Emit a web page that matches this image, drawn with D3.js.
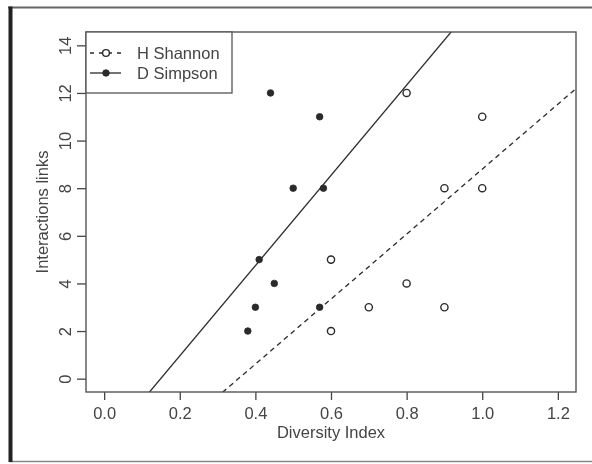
<!DOCTYPE html>
<html>
<head>
<meta charset="utf-8">
<script src="https://cdn.jsdelivr.net/npm/d3@7"></script>
<style>
  html, body { margin: 0; padding: 0; background: #fff; }
  svg { display: block; font-family: "Liberation Sans", Arial, sans-serif; }
</style>
</head>
<body>
<div id="chart"></div>
<script>
// data
const shannonX = [0.8, 1.0, 0.9, 1.0, 0.6, 0.8, 0.7, 0.9, 0.6];
const shannonY = [12, 11, 8, 8, 5, 4, 3, 3, 2];
const simpsonX = [0.44, 0.57, 0.50, 0.58, 0.41, 0.45, 0.40, 0.57, 0.38];
const simpsonY = [12, 11, 8, 8, 5, 4, 3, 3, 2];
const xTicks = [0, 0.2, 0.4, 0.6, 0.8, 1.0, 1.2];
const yTicks = [0, 2, 4, 6, 8, 10, 12, 14];
const seriesNames = ["H Shannon", "D Simpson"];

const width = 592, height = 464;
const plot = { left: 86, top: 32, right: 576, bottom: 392 };
const ink = "#2a2a2a";
const fontSize = 16.5;

// R pads the limits by 4% on each side
const pad = (lo, hi) => [lo - (hi - lo) * 0.04, hi + (hi - lo) * 0.04];

const x = d3.scaleLinear().domain(pad(0, 1.2)).range([plot.left, plot.right]);
const y = d3.scaleLinear().domain(pad(0, 14)).range([plot.bottom, plot.top]);

// least squares line, same as lm(y ~ x)
function fit(xs, ys) {
  const mx = d3.mean(xs), my = d3.mean(ys);
  const sxy = d3.sum(xs, (v, i) => (v - mx) * (ys[i] - my));
  const sxx = d3.sum(xs, (v) => (v - mx) ** 2);
  const slope = sxy / sxx;
  return { slope, intercept: my - slope * mx };
}

const series = [
  { name: seriesNames[0], xs: shannonX, ys: shannonY, filled: false, dash: "5,4" },
  { name: seriesNames[1], xs: simpsonX, ys: simpsonY, filled: true, dash: null },
];
series.forEach((s) => (s.fit = fit(s.xs, s.ys)));

const svg = d3.select("#chart").append("svg")
  .attr("width", width)
  .attr("height", height);

const defs = svg.append("defs");
defs.append("filter").attr("id", "soft")
  .append("feGaussianBlur").attr("stdDeviation", 0.45);
defs.append("clipPath").attr("id", "plot-clip")
  .append("rect")
  .attr("x", plot.left).attr("y", plot.top)
  .attr("width", plot.right - plot.left)
  .attr("height", plot.bottom - plot.top);

const g = svg.append("g").attr("filter", "url(#soft)");

// outer frame of the figure
g.append("line").attr("x1", 8).attr("x2", width).attr("y1", 7.5).attr("y2", 7.5)
  .attr("stroke", "#666").attr("stroke-width", 2);
g.append("line").attr("x1", 10).attr("x2", width).attr("y1", 461.5).attr("y2", 461.5)
  .attr("stroke", "#888").attr("stroke-width", 1.6);
g.append("line").attr("x1", 10.5).attr("x2", 10.5).attr("y1", 6.5).attr("y2", 462)
  .attr("stroke", "#222").attr("stroke-width", 4);

// regression lines (abline), clipped to the plot region
const lines = g.append("g").attr("clip-path", "url(#plot-clip)");
series.forEach((s) => {
  const [x0, x1] = x.domain();
  lines.append("line")
    .attr("x1", x(x0)).attr("y1", y(s.fit.intercept + s.fit.slope * x0))
    .attr("x2", x(x1)).attr("y2", y(s.fit.intercept + s.fit.slope * x1))
    .attr("stroke", ink)
    .attr("stroke-width", 1.3)
    .attr("stroke-dasharray", s.dash);
});

// points
series.forEach((s) => {
  g.append("g").selectAll("circle")
    .data(s.xs.map((v, i) => [v, s.ys[i]]))
    .join("circle")
    .attr("cx", (d) => x(d[0]))
    .attr("cy", (d) => y(d[1]))
    .attr("r", s.filled ? 3.3 : 3.6)
    .attr("fill", s.filled ? ink : "none")
    .attr("stroke", ink)
    .attr("stroke-width", s.filled ? 0.8 : 1.4);
});

// axes
const xAxis = g.append("g")
  .attr("transform", `translate(0,${plot.bottom})`)
  .call(d3.axisBottom(x).tickValues(xTicks).tickSize(8).tickPadding(6)
    .tickFormat(d3.format(".1f")));
const yAxis = g.append("g")
  .attr("transform", `translate(${plot.left},0)`)
  .call(d3.axisLeft(y).tickValues(yTicks).tickSize(9).tickPadding(4));

[xAxis, yAxis].forEach((a) => {
  a.select(".domain").remove();
  a.selectAll(".tick line").attr("stroke", "#444").attr("stroke-width", 1.3);
  a.selectAll(".tick text").attr("fill", "#444")
    .attr("font-family", "Liberation Sans, Arial, sans-serif")
    .attr("font-size", fontSize);
});
xAxis.selectAll(".tick text").attr("dy", "0.78em");
yAxis.selectAll(".tick text")
  .attr("text-anchor", "middle")
  .attr("dy", null)
  .attr("transform", "rotate(-90)")
  .attr("x", 0)
  .attr("y", -15);

// plot box
g.append("rect")
  .attr("x", plot.left).attr("y", plot.top)
  .attr("width", plot.right - plot.left)
  .attr("height", plot.bottom - plot.top)
  .attr("fill", "none").attr("stroke", "#555").attr("stroke-width", 1.4);

// axis titles
g.append("text")
  .attr("x", (plot.left + plot.right) / 2)
  .attr("y", 438)
  .attr("text-anchor", "middle")
  .attr("font-size", fontSize)
  .attr("fill", "#444")
  .text("Diversity Index");
g.append("text")
  .attr("transform", `translate(48,${(plot.top + plot.bottom) / 2}) rotate(-90)`)
  .attr("text-anchor", "middle")
  .attr("font-size", fontSize)
  .attr("fill", "#444")
  .text("Interactions links");

// legend
const legend = g.append("g");
legend.append("rect")
  .attr("x", plot.left).attr("y", plot.top)
  .attr("width", 146).attr("height", 61)
  .attr("fill", "#fff").attr("stroke", "#555").attr("stroke-width", 1.3);
const rows = legend.selectAll("g.row")
  .data(series)
  .join("g")
  .attr("class", "row")
  .attr("transform", (d, i) => `translate(${plot.left},${plot.top + 21 + i * 20})`);
rows.append("line")
  .attr("x1", 4).attr("x2", 35)
  .attr("stroke", ink).attr("stroke-width", 1.3)
  .attr("stroke-dasharray", (d) => (d.dash ? "4,5" : null));
rows.append("circle")
  .attr("cx", 20).attr("r", (d) => (d.filled ? 3.3 : 3.4))
  .attr("fill", (d) => (d.filled ? ink : "#fff"))
  .attr("stroke", ink)
  .attr("stroke-width", (d) => (d.filled ? 0.8 : 1.4));
rows.append("text")
  .attr("x", 51)
  .attr("dy", "0.36em")
  .attr("font-size", fontSize)
  .attr("fill", "#444")
  .text((d) => d.name);
</script>
</body>
</html>
